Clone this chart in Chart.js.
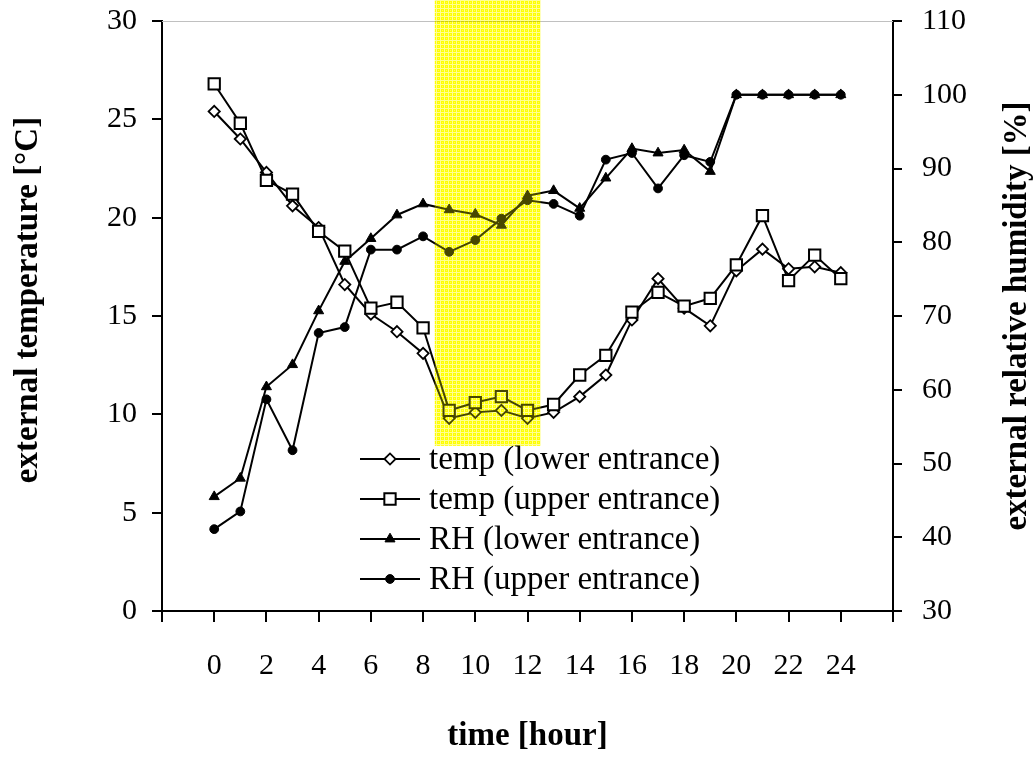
<!DOCTYPE html>
<html>
<head>
<meta charset="utf-8">
<script src="https://cdn.jsdelivr.net/npm/chart.js@4.4.1/dist/chart.umd.min.js"></script>
<style>
  html, body { margin: 0; padding: 0; background: #ffffff; }
  #wrap { width: 1034px; height: 758px; }
</style>
</head>
<body>
<div id="wrap"><canvas id="chart" width="1034" height="758"></canvas></div>
<script>
// Hourly readings at the two cave entrances
const hours = [0, 1, 2, 3, 4, 5, 6, 7, 8, 9, 10, 11, 12, 13, 14, 15, 16, 17, 18, 19, 20, 21, 22, 23, 24];
const tempLower = [25.4, 24.0, 22.3, 20.6, 19.5, 16.6, 15.1, 14.2, 13.1, 9.8, 10.1, 10.2, 9.8, 10.1, 10.9, 12.0, 14.8, 16.9, 15.4, 14.5, 17.3, 18.4, 17.4, 17.5, 17.2];
const tempUpper = [26.8, 24.8, 21.9, 21.2, 19.3, 18.3, 15.4, 15.7, 14.4, 10.2, 10.6, 10.9, 10.2, 10.5, 12.0, 13.0, 15.2, 16.2, 15.5, 15.9, 17.6, 20.1, 16.8, 18.1, 16.9];
const rhLower = [45.5, 48.0, 60.4, 63.4, 70.7, 77.4, 80.5, 83.7, 85.2, 84.4, 83.8, 82.3, 86.3, 87.0, 84.6, 88.7, 92.7, 92.1, 92.5, 89.6, 100, 100, 100, 100, 100];
const rhUpper = [41.1, 43.5, 58.7, 51.8, 67.7, 68.5, 79.0, 79.0, 80.8, 78.7, 80.3, 83.2, 85.7, 85.2, 83.6, 91.2, 92.1, 87.3, 91.8, 90.9, 100, 100, 100, 100, 100];

// Axis tick labels
const hourTickLabels = ['0', '2', '4', '6', '8', '10', '12', '14', '16', '18', '20', '22', '24'];
const tempTickLabels = ['0', '5', '10', '15', '20', '25', '30'];
const rhTickLabels = ['30', '40', '50', '60', '70', '80', '90', '100', '110'];

// Series names
const seriesNames = ['temp (lower entrance)', 'temp (upper entrance)', 'RH (lower entrance)', 'RH (upper entrance)'];

// Highlighted time window (hours) and its extent on the temperature scale
const highlightHours = [8.45, 12.5];
const highlightTemp = [8.4, 31.1];

const serif = "'Liberation Serif', 'Times New Roman', serif";

const pts = (vals) => hours.map((h, i) => ({ x: h, y: vals[i] }));

function lineSeries(label, vals, axis, style, radius, fill, bw) {
  return {
    label: label,
    data: pts(vals),
    yAxisID: axis,
    borderColor: '#000000',
    borderWidth: 2,
    tension: 0,
    fill: false,
    clip: false,
    pointStyle: style,
    pointRadius: radius,
    pointHoverRadius: radius,
    pointBackgroundColor: fill,
    pointBorderColor: '#000000',
    pointBorderWidth: bw
  };
}

// Drawn bottom-to-top: later entries in this list are painted first
const datasets = [
  lineSeries(seriesNames[1], tempUpper, 'yT', 'rect', 8, '#ffffff', 2),
  lineSeries(seriesNames[3], rhUpper, 'yH', 'circle', 4.4, '#000000', 1),
  lineSeries(seriesNames[0], tempLower, 'yT', 'rectRot', 5.6, '#ffffff', 1.8),
  lineSeries(seriesNames[2], rhLower, 'yH', 'triangle', 5.8, '#000000', 1)
];
const legendOrder = [2, 0, 3, 1];

function makeBandPattern(ctx) {
  const c = document.createElement('canvas');
  c.width = 4; c.height = 4;
  const g = c.getContext('2d');
  g.fillStyle = '#ffff00';
  g.fillRect(0, 0, 4, 4);
  g.fillStyle = '#ffffc8';
  g.fillRect(0, 0, 4, 1);
  g.fillRect(0, 0, 1, 4);
  g.fillStyle = '#ffff70';
  g.fillRect(2, 2, 1, 1);
  return ctx.createPattern(c, 'repeat');
}

const whiteBackground = {
  id: 'whiteBackground',
  beforeDraw(chart) {
    const ctx = chart.ctx;
    ctx.save();
    ctx.fillStyle = '#ffffff';
    ctx.fillRect(0, 0, chart.width, chart.height);
    ctx.restore();
  }
};

const plotFrame = {
  id: 'plotFrame',
  beforeDatasetsDraw(chart) {
    const { ctx, chartArea } = chart;
    ctx.save();
    ctx.strokeStyle = '#c0c0c0';
    ctx.lineWidth = 1;
    ctx.beginPath();
    ctx.moveTo(chartArea.left, chartArea.top + 0.5);
    ctx.lineTo(chartArea.right, chartArea.top + 0.5);
    ctx.stroke();
    ctx.restore();
  }
};

const highlightBand = {
  id: 'highlightBand',
  afterDatasetsDraw(chart) {
    const ctx = chart.ctx;
    const xs = chart.scales.x, ys = chart.scales.yT;
    const x0 = xs.getPixelForValue(highlightHours[0]);
    const x1 = xs.getPixelForValue(highlightHours[1]);
    const y0 = ys.getPixelForValue(highlightTemp[1]);
    const y1 = ys.getPixelForValue(highlightTemp[0]);
    ctx.save();
    ctx.globalCompositeOperation = 'multiply';
    ctx.fillStyle = makeBandPattern(ctx);
    ctx.fillRect(x0, y0, x1 - x0, y1 - y0);
    ctx.globalCompositeOperation = 'source-over';
    ctx.globalAlpha = 0.28;
    ctx.fillStyle = '#ffff00';
    ctx.fillRect(x0, y0, x1 - x0, y1 - y0);
    ctx.restore();
  }
};

const sideTitles = {
  id: 'sideTitles',
  afterDraw(chart) {
    const ctx = chart.ctx;
    const area = chart.chartArea;
    const mid = (area.top + area.bottom) / 2;
    const draw = (text, x, y) => {
      ctx.save();
      ctx.translate(x, y);
      ctx.rotate(-Math.PI / 2);
      ctx.font = 'bold 33px ' + serif;
      ctx.fillStyle = '#000000';
      ctx.textAlign = 'center';
      ctx.textBaseline = 'middle';
      ctx.fillText(text, 0, 0);
      ctx.restore();
    };
    draw('external temperature [°C]', 28, mid - 16);
    draw('external relative humidity [%]', 1017, mid);
  }
};

const seriesKey = {
  id: 'seriesKey',
  afterDraw(chart) {
    const ctx = chart.ctx;
    legendOrder.forEach((di, row) => {
      const ds = chart.data.datasets[di];
      const y = 459 + row * 40;
      ctx.save();
      ctx.strokeStyle = '#000000';
      ctx.lineWidth = 2;
      ctx.beginPath();
      ctx.moveTo(360, y);
      ctx.lineTo(420, y);
      ctx.stroke();
      ctx.fillStyle = ds.pointBackgroundColor;
      ctx.strokeStyle = ds.pointBorderColor;
      ctx.lineWidth = ds.pointBorderWidth;
      Chart.helpers.drawPoint(ctx, {
        pointStyle: ds.pointStyle,
        rotation: 0,
        radius: ds.pointRadius,
        borderWidth: ds.pointBorderWidth
      }, 390, y);
      ctx.font = '33px ' + serif;
      ctx.fillStyle = '#000000';
      ctx.textAlign = 'left';
      ctx.textBaseline = 'middle';
      ctx.fillText(ds.label, 429, y + 1);
      ctx.restore();
    });
  }
};

const tickFont = { family: serif, size: 30 };

// Fixed box sizes; the label overhang is absorbed by the outer margins
function fixBox(size, vertical) {
  return (s) => {
    if (vertical) { s.width = size; } else { s.height = size; }
    s.paddingTop = 0; s.paddingBottom = 0;
    s.paddingLeft = 0; s.paddingRight = 0;
  };
}

new Chart(document.getElementById('chart'), {
  type: 'line',
  data: { datasets: datasets },
  plugins: [whiteBackground, plotFrame, highlightBand, sideTitles, seriesKey],
  options: {
    responsive: false,
    animation: false,
    devicePixelRatio: 1,
    layout: { padding: { top: 21, left: 0, right: 0, bottom: 0 } },
    plugins: {
      legend: { display: false },
      tooltip: { enabled: false }
    },
    scales: {
      x: {
        type: 'linear',
        position: 'bottom',
        min: -2,
        max: 26,
        afterFit: fixBox(147, false),
        ticks: {
          stepSize: 2,
          autoSkip: false,
          maxRotation: 0,
          padding: 26,
          color: '#000000',
          font: tickFont,
          callback: (v) => hourTickLabels.includes(String(v)) ? String(v) : ''
        },
        grid: { drawOnChartArea: false, drawTicks: true, tickLength: 11, color: '#000000', lineWidth: 2 },
        border: { display: true, color: '#000000', width: 2 },
        title: {
          display: true,
          text: 'time [hour]',
          color: '#000000',
          font: { family: serif, size: 33, weight: 'bold', lineHeight: 1 },
          padding: { top: 0, bottom: 5 }
        }
      },
      yT: {
        type: 'linear',
        position: 'left',
        min: 0,
        max: 30,
        afterFit: fixBox(162, true),
        ticks: {
          stepSize: 5,
          padding: 15,
          color: '#000000',
          font: tickFont,
          callback: (v) => tempTickLabels.includes(String(v)) ? String(v) : ''
        },
        grid: { drawOnChartArea: false, drawTicks: true, tickLength: 10, color: '#000000', lineWidth: 2 },
        border: { display: true, color: '#000000', width: 2 }
      },
      yH: {
        type: 'linear',
        position: 'right',
        min: 30,
        max: 110,
        afterFit: fixBox(141, true),
        ticks: {
          stepSize: 10,
          padding: 20,
          color: '#000000',
          font: tickFont,
          callback: (v) => rhTickLabels.includes(String(v)) ? String(v) : ''
        },
        grid: { drawOnChartArea: false, drawTicks: true, tickLength: 9, color: '#000000', lineWidth: 2 },
        border: { display: true, color: '#000000', width: 2 }
      }
    }
  }
});
</script>
</body>
</html>
